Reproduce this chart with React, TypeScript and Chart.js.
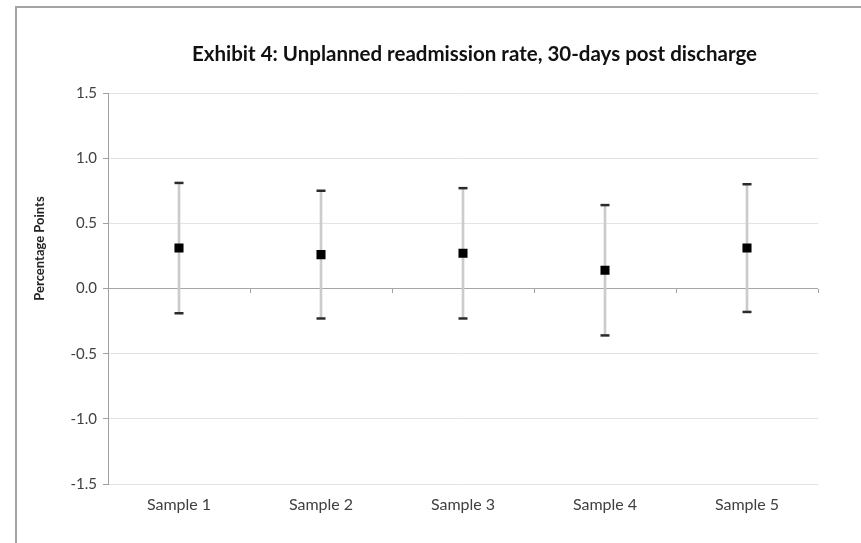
import React, { useEffect, useRef } from "react";
import { Chart, registerables } from "chart.js";

Chart.register(...registerables);

const categories = ["Sample 1", "Sample 2", "Sample 3", "Sample 4", "Sample 5"];
const means = [0.31, 0.26, 0.27, 0.14, 0.31];
const upper = [0.81, 0.75, 0.77, 0.64, 0.8];
const lower = [-0.19, -0.23, -0.23, -0.36, -0.18];
const yTicks = [-1.5, -1.0, -0.5, 0.0, 0.5, 1.0, 1.5];

const chartTitle = "Exhibit 4: Unplanned readmission rate, 30-days post discharge";
const yTitle = "Percentage Points";

const FONT = "Lato, 'Open Sans', sans-serif";

const titlesPlugin = {
  id: "customTitles",
  afterDraw(chart: any) {
    const { ctx, chartArea } = chart;
    ctx.save();
    ctx.fillStyle = "#111111";
    ctx.textAlign = "center";
    ctx.textBaseline = "alphabetic";
    ctx.font = `bold 20.5px ${FONT}`;
    ctx.fillText(chartTitle, (chartArea.left + chartArea.right) / 2 + 11.5, 61);
    ctx.translate(44, (chartArea.top + chartArea.bottom) / 2 - 40);
    ctx.rotate(-Math.PI / 2);
    ctx.font = `bold 13px ${FONT}`;
    ctx.fillStyle = "#222222";
    ctx.fillText(yTitle, 0, 0);
    ctx.restore();
  },
};

export default function App() {
  const ref = useRef<HTMLCanvasElement | null>(null);

  useEffect(() => {
    if (!ref.current) return;
    const chart = new Chart(ref.current, {
      type: "bar",
      data: {
        labels: categories,
        datasets: [
          {
            type: "bar",
            data: lower.map((l, i) => [l, upper[i]]) as any,
            backgroundColor: "#cbcbcb",
            barThickness: 2,
            grouped: false,
            order: 3,
          },
          {
            type: "line",
            data: upper,
            showLine: false,
            pointStyle: "line",
            pointRadius: 4.5,
            pointBorderWidth: 2.5,
            pointBorderColor: "#2b2b2b",
            pointBackgroundColor: "#2b2b2b",
            order: 2,
          },
          {
            type: "line",
            data: lower,
            showLine: false,
            pointStyle: "line",
            pointRadius: 4.5,
            pointBorderWidth: 2.5,
            pointBorderColor: "#2b2b2b",
            pointBackgroundColor: "#2b2b2b",
            order: 2,
          },
          {
            type: "line",
            data: means,
            showLine: false,
            pointStyle: "rect",
            pointRadius: 6.4,
            pointBorderWidth: 0,
            pointBackgroundColor: "#000000",
            pointBorderColor: "#000000",
            order: 1,
          },
        ] as any,
      },
      options: {
        responsive: false,
        animation: false,
        events: [],
        layout: { padding: { top: 93, right: 43, bottom: 0, left: 0 } },
        plugins: {
          legend: { display: false },
          title: { display: false },
          tooltip: { enabled: false },
        },
        scales: {
          x: {
            type: "category",
            offset: true,
            grid: { display: false, drawTicks: false },
            border: { display: false },
            ticks: {
              color: "#404040",
              font: { family: FONT, size: 16 },
              padding: 11,
              maxRotation: 0,
            },
            afterFit: (axis: any) => {
              axis.height = 59;
            },
          },
          x2: {
            type: "category",
            labels: categories,
            offset: true,
            position: { y: 0 } as any,
            grid: {
              offset: true,
              drawOnChartArea: false,
              drawTicks: true,
              tickLength: 4,
              tickColor: "#a0a0a0",
              color: "#a0a0a0",
            },
            border: { display: false },
            ticks: { display: false },
            afterFit: (axis: any) => {
              axis.height = 0;
            },
          },
          y: {
            min: -1.5,
            max: 1.5,
            afterBuildTicks: (axis: any) => {
              axis.ticks = yTicks.map((v) => ({ value: v }));
            },
            grid: {
              color: (c: any) => (c.tick && c.tick.value === 0 ? "#a6a6a6" : "#e3e3e3"),
              tickColor: "#a0a0a0",
              tickLength: 5,
              lineWidth: 1,
            },
            border: { display: true, color: "#a0a0a0", width: 1 },
            ticks: {
              color: "#404040",
              font: { family: FONT, size: 15 },
              padding: 6,
              callback: (v: any) => Number(v).toFixed(1),
            },
            afterFit: (axis: any) => {
              axis.width = 108;
            },
          },
        },
      },
      plugins: [titlesPlugin],
    } as any);
    return () => chart.destroy();
  }, []);

  return (
    <div style={{ position: "fixed", left: 0, top: 0, width: 861, height: 543, background: "#ffffff" }}>
      <canvas ref={ref} width={861} height={543} style={{ position: "absolute", left: 0, top: 0 }} />
      <div
        style={{
          position: "absolute",
          left: 15,
          top: 6,
          right: 0,
          bottom: 0,
          borderTop: "2px solid #a3a3a3",
          borderLeft: "2px solid #a3a3a3",
          pointerEvents: "none",
        }}
      />
    </div>
  );
}
